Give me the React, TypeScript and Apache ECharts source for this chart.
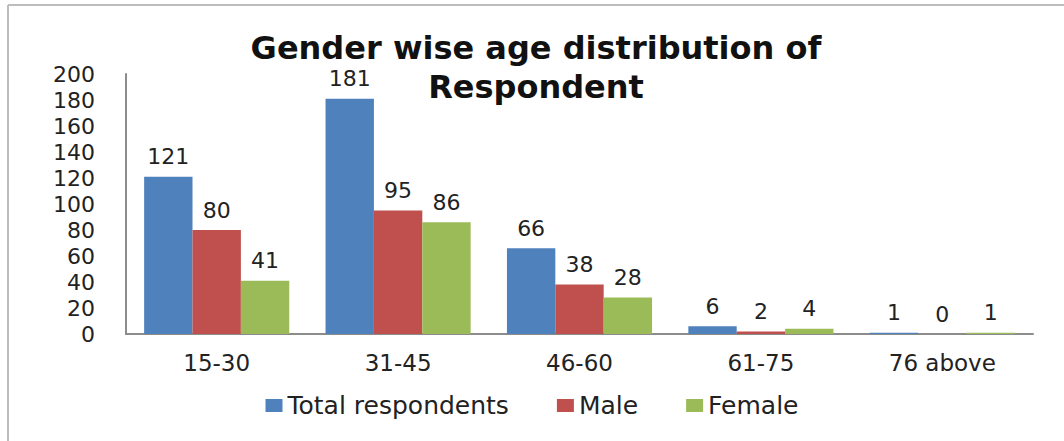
import React, { useEffect, useRef } from "react";
import * as echarts from "echarts";

const categories = ["15-30", "31-45", "46-60", "61-75", "76 above"];
const totalRespondents = [121, 181, 66, 6, 1];
const male = [80, 95, 38, 2, 0];
const female = [41, 86, 28, 4, 1];
const seriesNames = ["Total respondents", "Male", "Female"];
const colors = ["#4F81BD", "#C0504D", "#9BBB59"];
const titleLines = ["Gender wise age distribution of", "Respondent"];

export default function App() {
  const ref = useRef<HTMLDivElement>(null);
  useEffect(() => {
    document.body.style.margin = "0";
    const chart = echarts.init(ref.current!, null, { renderer: "svg" });
    const font = "DejaVu Sans";
    const labelStyle = {
      show: true,
      position: "top" as const,
      distance: 9,
      fontFamily: font,
      fontSize: 22,
      color: "#222",
    };
    const data = [totalRespondents, male, female];
    const titleStyle = {
      fontFamily: font,
      fontWeight: "bold" as const,
      fontSize: 32,
      lineHeight: 38,
      color: "#111",
    };
    chart.setOption({
      animation: false,
      backgroundColor: "#fff",
      title: titleLines.map((t, i) => ({
        text: t,
        left: 536,
        textAlign: "center",
        top: 29 + i * 39,
        padding: 0,
        textStyle: titleStyle,
      })),
      legend: {
        bottom: 18,
        left: "center",
        itemWidth: 17,
        itemHeight: 13,
        itemGap: 48,
        icon: "rect",
        textStyle: { fontFamily: font, fontSize: 25, color: "#222" },
        data: seriesNames,
      },
      graphic: [
        {
          type: "line",
          shape: { x1: 8, y1: 5, x2: 1064, y2: 5 },
          style: { stroke: "#bdbdbd", lineWidth: 2 },
        },
        {
          type: "line",
          shape: { x1: 8, y1: 5, x2: 8, y2: 441 },
          style: { stroke: "#bdbdbd", lineWidth: 2 },
        },
      ],
      grid: { left: 126, right: 31, top: 74, bottom: 107 },
      xAxis: {
        type: "category",
        data: categories,
        axisLine: { lineStyle: { color: "#8c8c8c", width: 2 } },
        axisTick: { show: false },
        axisLabel: {
          fontFamily: font,
          fontSize: 23,
          color: "#222",
          margin: 17,
        },
      },
      yAxis: {
        type: "value",
        min: 0,
        max: 200,
        interval: 20,
        axisLine: { show: true, lineStyle: { color: "#8c8c8c", width: 2 } },
        axisTick: { show: false },
        splitLine: { show: false },
        axisLabel: {
          fontFamily: font,
          fontSize: 22,
          color: "#222",
          margin: 31,
        },
      },
      series: seriesNames.map((name, i) => ({
        name,
        type: "bar",
        data: data[i],
        barGap: "0%",
        barCategoryGap: "20%",
        itemStyle: { color: colors[i] },
        label: labelStyle,
      })),
    });
    return () => chart.dispose();
  }, []);
  return <div ref={ref} style={{ width: 1064, height: 441 }} />;
}
